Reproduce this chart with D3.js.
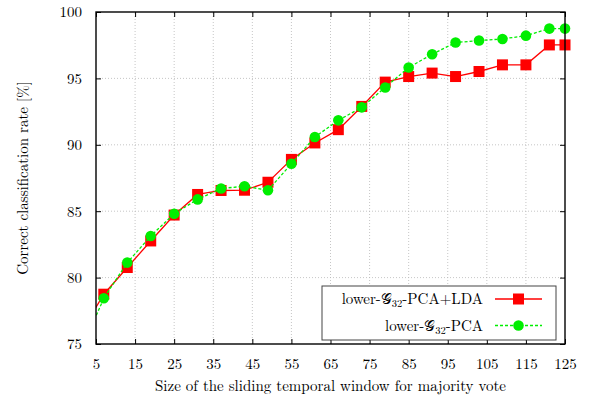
<!DOCTYPE html>
<html>
<head>
<meta charset="utf-8">
<script src="https://cdn.jsdelivr.net/npm/d3@7"></script>
<style>
    body { margin: 0; background: #fff; }
</style>
</head>
<body>
<div id="chart"></div>
<script>
(function () {

    // Data
    var windowSizes = [1, 7, 13, 19, 25, 31, 37, 43, 49, 55, 61, 67, 73, 79, 85, 91, 97, 103, 109, 115, 121, 125];
    var pcaLda = [75.8, 78.75, 80.76, 82.76, 84.71, 86.26, 86.56, 86.58, 87.18, 88.9, 90.14, 91.14, 92.89, 94.72, 95.14, 95.4, 95.14, 95.52, 96.02, 96.02, 97.52, 97.52];
    var pcaOnly = [74.4, 78.45, 81.13, 83.13, 84.81, 85.89, 86.71, 86.88, 86.58, 88.57, 90.59, 91.84, 92.82, 94.32, 95.82, 96.82, 97.7, 97.85, 97.97, 98.22, 98.75, 98.75];
    var xTicks = [5, 15, 25, 35, 45, 55, 65, 75, 85, 95, 105, 115, 125];
    var yTicks = [75, 80, 85, 90, 95, 100];

    var FONT = '"Latin Modern Roman", "CMU Serif", "Liberation Serif", serif';

    var width = 590, height = 402;
    var margin = {left: 96, right: 25, top: 12, bottom: 58};

    var svg = d3.select('#chart')
        .append('svg')
        .attr('width', width)
        .attr('height', height)
        .style('font-family', FONT);

    // Scales
    var x = d3.scaleLinear()
        .domain([5, 125])
        .range([margin.left, width - margin.right]);
    var y = d3.scaleLinear()
        .domain([75, 100])
        .range([height - margin.bottom, margin.top]);

    var x0 = x.range()[0], x1 = x.range()[1];
    var y0 = y.range()[0], y1 = y.range()[1];

    // Grid
    var grid = svg.append('g')
        .attr('stroke', '#b8b8b8')
        .attr('stroke-width', 0.8)
        .attr('stroke-dasharray', '1,2');
    grid.selectAll('.gx')
        .data(xTicks.slice(1, -1))
        .enter()
        .append('line')
        .attr('x1', function (d) { return x(d); })
        .attr('x2', function (d) { return x(d); })
        .attr('y1', y0)
        .attr('y2', y1);
    grid.selectAll('.gy')
        .data(yTicks.slice(1, -1))
        .enter()
        .append('line')
        .attr('x1', x0)
        .attr('x2', x1)
        .attr('y1', function (d) { return y(d); })
        .attr('y2', function (d) { return y(d); });

    // Axes (inward ticks, mirrored)
    var bottomAxis = d3.axisBottom(x).tickValues(xTicks).tickSizeInner(-5).tickSizeOuter(0).tickPadding(14);
    var topAxis = d3.axisTop(x).tickValues(xTicks).tickSizeInner(-5).tickSizeOuter(0).tickFormat('');
    var leftAxis = d3.axisLeft(y).tickValues(yTicks).tickSizeInner(-5).tickSizeOuter(0).tickPadding(14);
    var rightAxis = d3.axisRight(y).tickValues(yTicks).tickSizeInner(-5).tickSizeOuter(0).tickFormat('');

    function styleAxis(g) {
        g.attr('font-family', null).attr('font-size', null);
        g.select('.domain').remove();
        g.selectAll('line').attr('stroke', '#000').attr('stroke-width', 1);
        g.selectAll('text')
            .style('font-family', FONT)
            .attr('font-size', 15);
    }

    svg.append('g').attr('transform', 'translate(0,' + y0 + ')').call(bottomAxis).call(styleAxis);
    svg.append('g').attr('transform', 'translate(0,' + y1 + ')').call(topAxis).call(styleAxis);
    svg.append('g').attr('transform', 'translate(' + x0 + ',0)').call(leftAxis).call(styleAxis);
    svg.append('g').attr('transform', 'translate(' + x1 + ',0)').call(rightAxis).call(styleAxis);

    // Clip for the lines
    svg.append('clipPath')
        .attr('id', 'plot-clip')
        .append('rect')
        .attr('x', x0)
        .attr('y', y1)
        .attr('width', x1 - x0)
        .attr('height', y0 - y1);

    var series = [
        {name: 'pcaLda', values: pcaLda, color: '#ff0000', dash: null, marker: 'square'},
        {name: 'pcaOnly', values: pcaOnly, color: '#00ee00', dash: '3,2', marker: 'circle'}
    ];

    var line = d3.line()
        .x(function (d) { return x(d.x); })
        .y(function (d) { return y(d.y); });

    function drawMarker(g, s, cx, cy) {
        if (s.marker === 'square') {
            g.append('rect')
                .attr('x', cx - 5.5)
                .attr('y', cy - 5.5)
                .attr('width', 11)
                .attr('height', 11)
                .attr('fill', s.color);
        } else {
            g.append('circle')
                .attr('cx', cx)
                .attr('cy', cy)
                .attr('r', 5.3)
                .attr('fill', s.color);
        }
    }

    series.forEach(function (s) {
        var pts = windowSizes.map(function (w, i) {
            return {x: w, y: s.values[i]};
        });

        svg.append('path')
            .datum(pts)
            .attr('clip-path', 'url(#plot-clip)')
            .attr('fill', 'none')
            .attr('stroke', s.color)
            .attr('stroke-width', 1.3)
            .attr('stroke-dasharray', s.dash)
            .attr('d', line);

        var g = svg.append('g');
        pts.forEach(function (p) {
            if (p.x < 5 || p.y < 75) return;
            drawMarker(g, s, x(p.x), y(p.y));
        });
    });

    // Border
    svg.append('rect')
        .attr('x', x0)
        .attr('y', y1)
        .attr('width', x1 - x0)
        .attr('height', y0 - y1)
        .attr('fill', 'none')
        .attr('stroke', '#000')
        .attr('stroke-width', 1.4);

    // Legend
    var legend = svg.append('g');
    legend.append('rect')
        .attr('x', 322)
        .attr('y', 286)
        .attr('width', 234)
        .attr('height', 54)
        .attr('fill', '#fff')
        .attr('stroke', '#444')
        .attr('stroke-width', 1);

    var labels = ['PCA+LDA', 'PCA'];
    series.forEach(function (s, i) {
        var ly = 299 + i * 26.5;
        var t = legend.append('text')
            .attr('x', 483)
            .attr('y', ly + 5)
            .attr('text-anchor', 'end')
            .attr('font-size', 15);
        t.append('tspan').text('lower-');
        t.append('tspan').text('\uD835\uDCA2');
        t.append('tspan').attr('font-size', 10.5).attr('dy', 3).text('32');
        t.append('tspan').attr('dy', -3).text('-' + labels[i]);

        legend.append('line')
            .attr('x1', 495)
            .attr('x2', 542)
            .attr('y1', ly)
            .attr('y2', ly)
            .attr('stroke', s.color)
            .attr('stroke-width', 1.3)
            .attr('stroke-dasharray', s.dash);
        drawMarker(legend, s, 518.5, ly);
    });

    // Axis titles
    svg.append('text')
        .attr('x', (x0 + x1) / 2)
        .attr('y', 391)
        .attr('text-anchor', 'middle')
        .attr('font-size', 15)
        .text('Size of the sliding temporal window for majority vote');

    svg.append('text')
        .attr('transform', 'translate(28,' + ((y0 + y1) / 2) + ') rotate(-90)')
        .attr('text-anchor', 'middle')
        .attr('font-size', 15)
        .text('Correct classification rate [%]');

})();
</script>
</body>
</html>
